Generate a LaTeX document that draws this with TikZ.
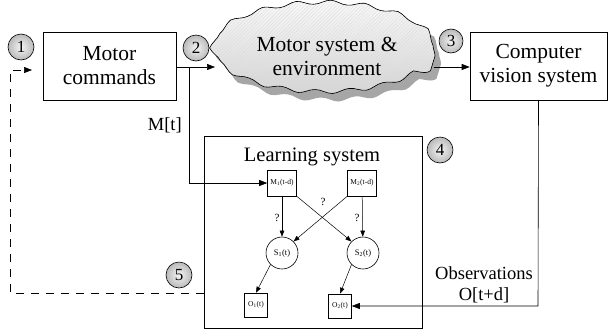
\documentclass[tikz,border=0pt]{standalone}
\usepackage{fontspec}
\setmainfont{Liberation Serif}
\usetikzlibrary{arrows.meta,decorations.pathmorphing,calc,patterns.meta}
\begin{document}
\begin{tikzpicture}[x=1pt,y=-1pt,
  arr/.style={-{Triangle[length=8pt,width=6pt]}, line width=0.6pt},
  bigbox/.style={draw, line width=0.6pt, minimum width=#1, minimum height=68pt, align=center, font=\fontsize{21.5}{24}\selectfont, inner sep=0pt},
  numc/.style={circle, draw, line width=0.6pt, shading=radial, inner color=gray!8, outer color=gray!55, minimum size=26pt, inner sep=0pt, font=\fontsize{17}{17}\selectfont},
  smallbox/.style={draw, line width=0.6pt, minimum width=#1, minimum height=26pt, inner sep=0.5pt, font=\fontsize{7.5}{8}\selectfont},
  smallc/.style={circle, draw, line width=0.6pt, minimum size=32pt, inner sep=0pt, font=\fontsize{8.5}{9}\selectfont},
  qm/.style={font=\fontsize{11}{11}\selectfont, inner sep=0pt},
  lbl/.style={font=\fontsize{18.5}{21}\selectfont, align=center, inner sep=0pt},
  cloudedge/.style={decorate, decoration={snake, amplitude=2pt, segment length=34pt}}
]
\useasboundingbox (0,0) rectangle (609,335);

% cloud
\fill[gray!70, cloudedge] (330,64) ellipse [x radius=111pt, y radius=45pt];
\fill[cloudedge, top color=gray!5, bottom color=gray!35] (324,56) ellipse [x radius=111pt, y radius=45pt];
\fill[cloudedge, pattern={Lines[angle=45, distance=2.5pt, line width=0.3pt]}, pattern color=gray!30] (324,56) ellipse [x radius=111pt, y radius=45pt];
\draw[line width=0.6pt, cloudedge] (324,56) ellipse [x radius=111pt, y radius=45pt];
\node[font=\fontsize{21.5}{24}\selectfont, align=center] (cloud) at (327,56) {Motor system \&\\environment};
\coordinate (cloudW) at (215,67);
\coordinate (cloudE) at (434,67);

% boxes
\node[bigbox=133pt] (mc) at (109.5,66) {Motor\\commands};
\node[bigbox=137pt] (cv) at (538.5,66) {Computer\\vision system};
\node[draw, line width=0.6pt, minimum width=218pt, minimum height=192pt, inner sep=0pt] (ls) at (313,232) {};
\node[font=\fontsize{20.5}{22}\selectfont, inner sep=0pt] (lst) at (312,157) {Learning system};

% number circles
\node[numc] (n1) at (21,47) {1};
\node[numc] (n2) at (196,48) {2};
\node[numc, minimum size=24pt] (n3) at (451,41) {3};
\node[numc] (n4) at (440,150) {4};
\node[numc] (n5) at (179,275) {5};

% inner nodes
\node[smallbox=29pt] (m1) at (282,183) {M\textsubscript{1}(t-d)};
\node[smallbox=29pt] (m2) at (362,183) {M\textsubscript{2}(t-d)};
\node[smallc] (s1) at (282,253) {S\textsubscript{1}(t)};
\node[smallc] (s2) at (363,253) {S\textsubscript{2}(t)};
\node[smallbox=23pt, minimum height=24pt] (o1) at (256,305) {O\textsubscript{1}(t)};
\node[smallbox=23pt, minimum height=24pt] (o2) at (340,306) {O\textsubscript{2}(t)};

% main flow
\draw[arr] (mc.east |- cloudW) -- (cloudW);
\draw[arr] (cloudE) -- (cv.west |- cloudE);
\coordinate (mt) at (189,67);
\draw[arr] (mt) |- (m1.west);
\node[lbl, anchor=east] (mtl) at (182,125) {M[t]};
\coordinate (obs) at (538,306);
\draw[arr] (cv.south) -- (obs) -- (o2.east);
\node[lbl] (obsl) at (484,285) {Observations\\O[t+d]};

% dashed feedback
\coordinate (d1) at (10,293);
\coordinate (d2) at (10,70);
\coordinate (d3) at (32,70);
\draw[arr, dash pattern=on 8pt off 7pt] (ls.west |- d1) -- (d1) -- (d2) -- (d3);

% inner arrows
\draw[-{Triangle[length=6pt,width=4.5pt]}, line width=0.5pt] (m1) -- (s1);
\draw[-{Triangle[length=6pt,width=4.5pt]}, line width=0.5pt] (m2) -- (s2);
\draw[-{Triangle[length=6pt,width=4.5pt]}, line width=0.5pt] (m1.south east) -- (s2.north west);
\draw[-{Triangle[length=6pt,width=4.5pt]}, line width=0.5pt] (m2.south west) -- (s1.north east);
\draw[-{Triangle[length=6pt,width=4.5pt]}, line width=0.5pt] (s1.south west) -- (o1.north);
\draw[-{Triangle[length=6pt,width=4.5pt]}, line width=0.5pt] (s2.south west) -- (o2.north);
\node[qm] (q1) at (277,218) {?};
\node[qm] (q2) at (357,218) {?};
\node[qm] (q3) at (323,202) {?};
\end{tikzpicture}
\end{document}
